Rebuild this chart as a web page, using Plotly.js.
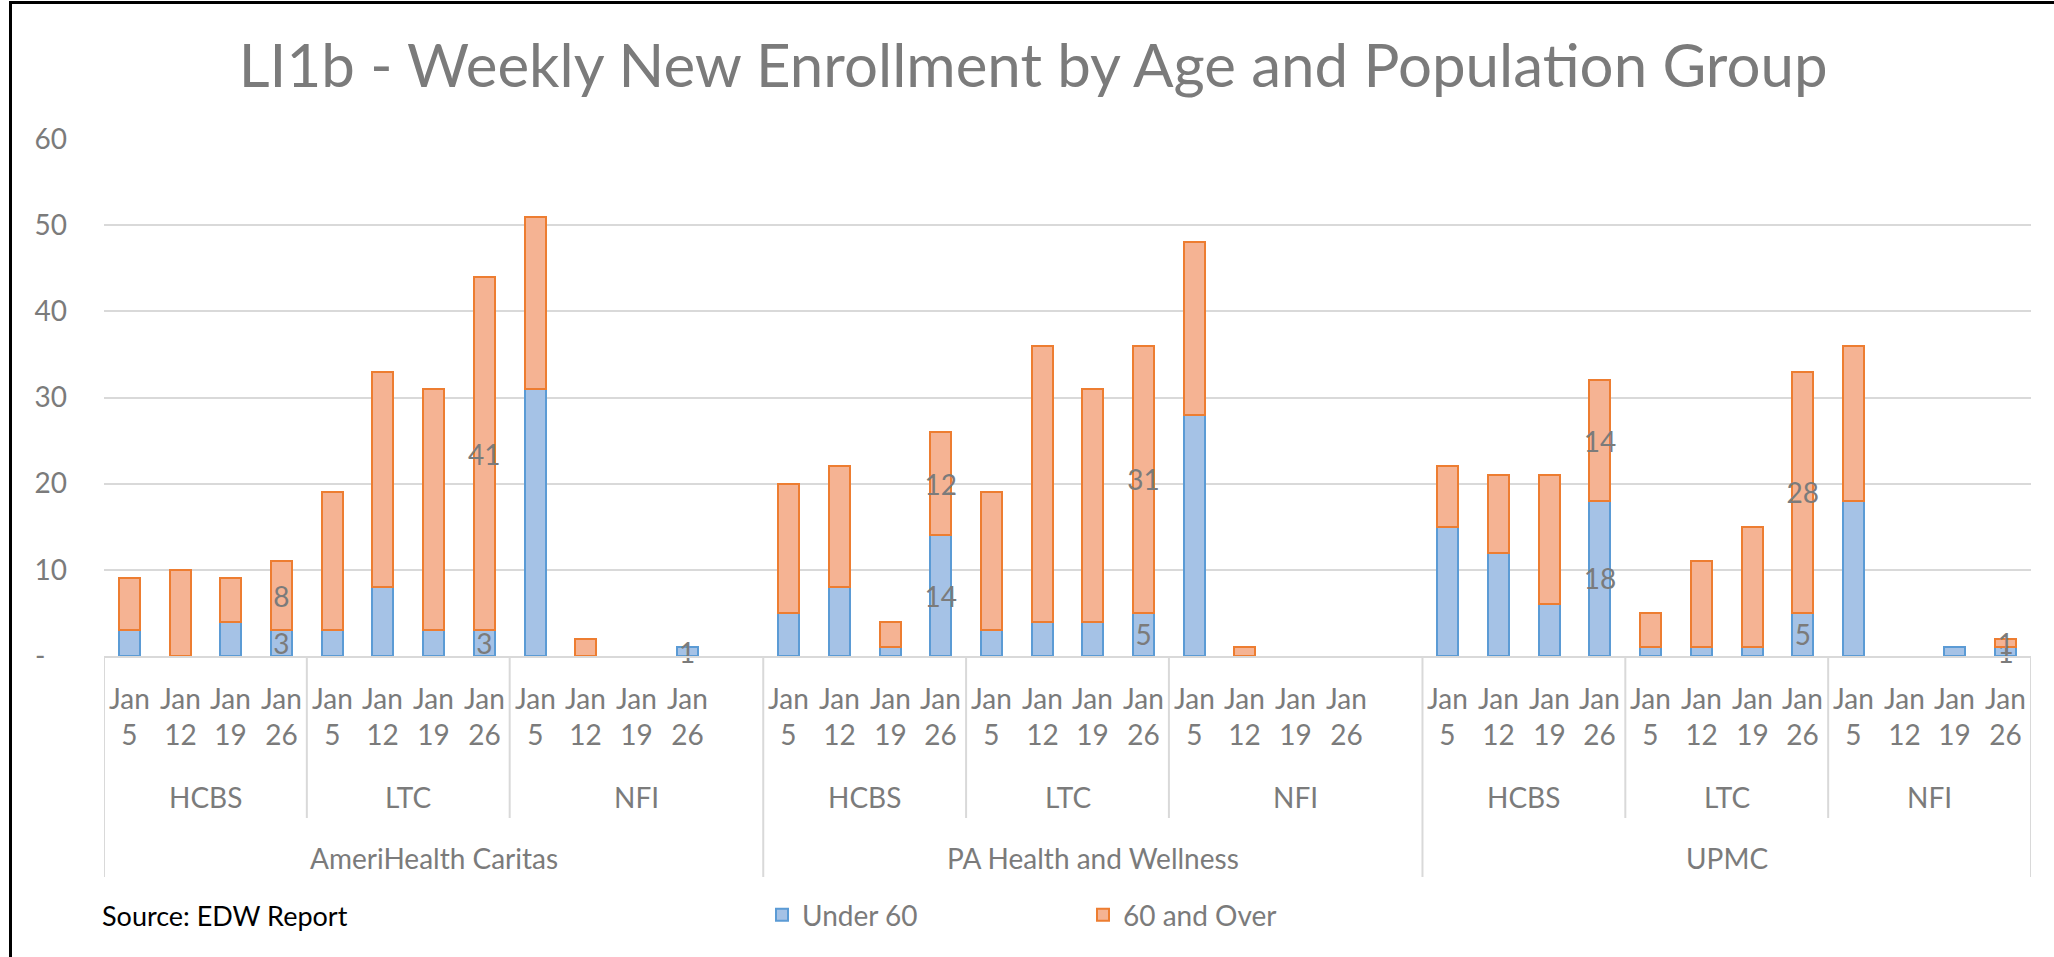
<!DOCTYPE html>
<html>
<head>
<meta charset="utf-8">
<script src="https://cdn.plot.ly/plotly-3.0.1.min.js"></script>
<style>
  html, body { margin: 0; padding: 0; background: #fff; }
  #wrap { position: relative; width: 2054px; height: 957px; overflow: hidden; }
  #chart { position: absolute; left: 0; top: 0; width: 2054px; height: 957px; }
  #bt { position: absolute; left: 9px; top: 1px; width: 2045px; height: 3px; background: #000; }
  #bl { position: absolute; left: 9px; top: 1px; width: 3px; height: 956px; background: #000; }
</style>
</head>
<body>
<div id="wrap"><div id="chart"></div><div id="bt"></div><div id="bl"></div></div>
<script>
// ---- data ----
const mcos = ['AmeriHealth Caritas', 'PA Health and Wellness', 'UPMC'];
const groups = ['HCBS', 'LTC', 'NFI'];
const weekLabels = ['Jan 5', 'Jan 12', 'Jan 19', 'Jan 26'];
// order: mco -> group -> week
const under60 = [
  3, 0, 4, 3,    3, 8, 3, 3,    31, 0, 0, 1,
  5, 8, 1, 14,   3, 4, 4, 5,    28, 0, 0, 0,
  15, 12, 6, 18, 1, 1, 1, 5,    18, 0, 1, 1
];
const over60 = [
  6, 10, 5, 8,   16, 25, 28, 41, 20, 2, 0, 0,
  15, 14, 3, 12, 16, 32, 27, 31, 20, 1, 0, 0,
  7, 9, 15, 14,  4, 10, 14, 28,  18, 0, 0, 1
];
const yTickVals = [0, 10, 20, 30, 40, 50, 60];
const yTickText = ['-\u00a0\u00a0\u00a0', '10', '20', '30', '40', '50', '60'];

// ---- layout helpers ----
const SLOTS_PER_MCO = 13; // 12 weeks + one empty slot
const pos = [], wk = [];
mcos.forEach((m, mi) => groups.forEach((g, gi) => weekLabels.forEach((w, wi) => {
  pos.push(mi * SLOTS_PER_MCO + gi * 4 + wi);
  wk.push(wi);
})));
const lastX = (mcos.length - 1) * SLOTS_PER_MCO + groups.length * 4 - 0.5;

const FONT = 'Lato, "Open Sans", sans-serif';
const GRAY = '#7b7b7b';
const LINE = '#d9d9d9';

function labels(vals) {
  return vals.map((v, i) => (wk[i] === 3 && v > 0) ? String(v) : '');
}
function lineWidths(vals) {
  return vals.map(v => v > 0 ? 2 : 0);
}

const common = {
  type: 'bar', x: pos,
  textposition: 'inside', insidetextanchor: 'middle', textangle: 0,
  constraintext: 'none', cliponaxis: false,
  textfont: { family: FONT, size: 28, color: GRAY },
  hoverinfo: 'y+name'
};
const traces = [
  Object.assign({}, common, {
    name: 'Under 60', y: under60, text: labels(under60),
    marker: { color: '#a5c2e6', line: { color: '#5b9bd5', width: lineWidths(under60) } }
  }),
  Object.assign({}, common, {
    name: '60 and Over', y: over60, text: labels(over60),
    marker: { color: '#f5b393', line: { color: '#ed7d31', width: lineWidths(over60) } }
  })
];

// annotations: week labels, group labels, mco labels, source
const ann = [];
const plotH = 517;
const py = (pix) => -(pix - 656) / plotH;
pos.forEach((p, i) => {
  const parts = weekLabels[wk[i]].split(' ');
  ann.push({ x: p, y: py(716), xref: 'x', yref: 'paper', text: parts[0] + '<br>' + parts[1],
    showarrow: false, yanchor: 'middle', xanchor: 'center',
    font: { family: FONT, size: 28, color: GRAY } });
});
const shapes = [];
mcos.forEach((m, mi) => {
  const start = mi * SLOTS_PER_MCO - 0.5;
  const end = (mi === mcos.length - 1) ? lastX : start + SLOTS_PER_MCO;
  groups.forEach((g, gi) => {
    const gs = start + gi * 4;
    const ge = (gi === groups.length - 1) ? end : gs + 4;
    ann.push({ x: (gs + ge) / 2, y: py(797), xref: 'x', yref: 'paper', text: g,
      showarrow: false, yanchor: 'middle', font: { family: FONT, size: 28, color: GRAY } });
    if (gi > 0) {
      shapes.push({ type: 'line', xref: 'x', yref: 'paper', x0: gs, x1: gs, y0: 0, y1: py(818),
        line: { color: LINE, width: 2 } });
    }
  });
  ann.push({ x: (start + end) / 2, y: py(858), xref: 'x', yref: 'paper', text: m,
    showarrow: false, yanchor: 'middle', font: { family: FONT, size: 28, color: GRAY } });
  shapes.push({ type: 'line', xref: 'x', yref: 'paper', x0: start, x1: start, y0: 0, y1: py(877),
    line: { color: LINE, width: 2 } });
});
shapes.push({ type: 'line', xref: 'x', yref: 'paper', x0: lastX, x1: lastX, y0: 0, y1: py(877),
  line: { color: LINE, width: 2 } });
ann.push({ x: (100 - 104) / 1927, y: py(915), xref: 'paper', yref: 'paper', text: 'Source: EDW Report',
  showarrow: false, xanchor: 'left', yanchor: 'middle', font: { family: FONT, size: 27, color: '#000' } });

const layout = {
  width: 2054, height: 957,
  margin: { l: 104, r: 23, t: 139, b: 301 },
  paper_bgcolor: '#fff', plot_bgcolor: '#fff',
  barmode: 'stack', bargap: 0.586,
  title: { text: 'LI1b - Weekly New Enrollment by Age and Population Group',
    x: 0.503, xanchor: 'center', y: 1 - 66 / 957, yanchor: 'middle',
    font: { family: FONT, size: 60, color: GRAY } },
  xaxis: { range: [-0.5, lastX], showticklabels: false, showgrid: false, zeroline: false,
    showline: true, linecolor: LINE, linewidth: 2, ticks: '', fixedrange: true },
  yaxis: { range: [0, 60], tickmode: 'array', tickvals: yTickVals, ticktext: yTickText,
    showgrid: true, gridcolor: LINE, gridwidth: 2, zeroline: false, showline: false,
    ticks: '', ticklabelstandoff: 36,
    tickfont: { family: FONT, size: 28, color: GRAY } },
  showlegend: true,
  legend: { orientation: 'h', x: (762 - 104) / 1927, xanchor: 'left', y: py(915), yanchor: 'middle',
    entrywidth: 276, entrywidthmode: 'pixels', traceorder: 'normal',
    font: { family: FONT, size: 28, color: GRAY }, bgcolor: 'rgba(0,0,0,0)' },
  annotations: ann,
  shapes: shapes
};

Plotly.newPlot('chart', traces, layout, { displayModeBar: false, staticPlot: true });
</script>
</body>
</html>
